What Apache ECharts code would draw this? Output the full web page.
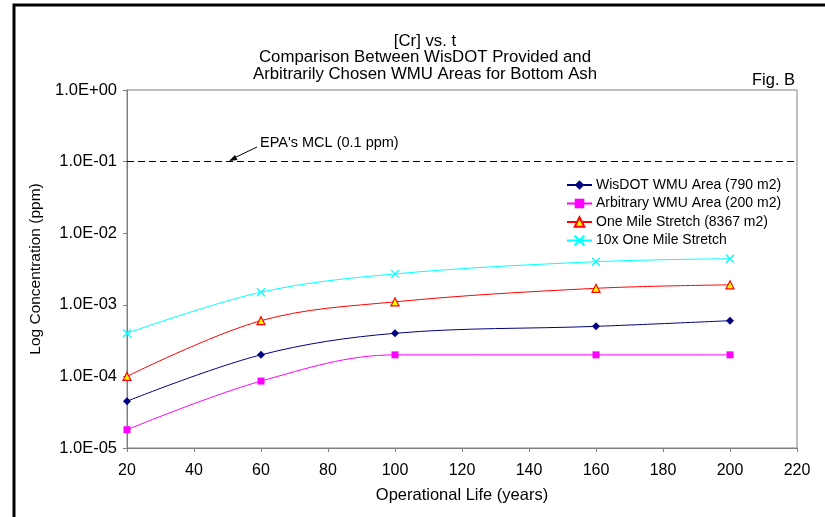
<!DOCTYPE html>
<html><head><meta charset="utf-8">
<script src="https://cdn.jsdelivr.net/npm/echarts@6/dist/echarts.min.js"></script>
<style>html,body{margin:0;padding:0;background:#fff}#c{width:825px;height:517px}</style>
</head><body><div id="c"></div>
<script>
const years = [20, 60, 100, 160, 200];
const wisdot = [4.5e-5, 2.0e-4, 4.0e-4, 5.0e-4, 6.0e-4];
const arbitrary = [1.8e-5, 8.6e-5, 2.0e-4, 2.0e-4, 2.0e-4];
const oneMile = [1.0e-4, 6.0e-4, 1.1e-3, 1.7e-3, 1.9e-3];
const tenxMile = [4.0e-4, 1.5e-3, 2.7e-3, 4.0e-3, 4.4e-3];
const seriesNames = ['WisDOT WMU Area (790 m2)', 'Arbitrary WMU Area (200 m2)', 'One Mile Stretch (8367 m2)', '10x One Mile Stretch'];
const mcl = 0.1;
const titleLines = ['[Cr] vs. t', 'Comparison Between WisDOT Provided and', 'Arbitrarily Chosen WMU Areas for Bottom Ash'];

const font = 'Liberation Sans, Arial, sans-serif';
const pair = arr => years.map((x, i) => [x, arr[i]]);
const fmt = v => {
  const e = Math.round(Math.log10(v));
  const s = e < 0 ? '-' : '+';
  return '1.0E' + s + String(Math.abs(e)).padStart(2, '0');
};
const xPath = 'path://M0,0L10,10M10,0L0,10';
const chart = echarts.init(document.getElementById('c'), null, {renderer: 'canvas'});
chart.setOption({
  animation: false,
  textStyle: {fontFamily: font},
  title: {
    text: titleLines.join('\n'),
    left: 420, top: 28, textAlign: 'center',
    textStyle: {fontFamily: font, fontSize: 16.8, fontWeight: 'normal', color: '#000', lineHeight: 16.5}
  },
  grid: {left: 127, right: 28, top: 90, bottom: 69, show: true, borderColor: '#808080', borderWidth: 1},
  legend: {
    orient: 'vertical', left: 561, top: 173, itemGap: 4.5, itemWidth: 25, itemHeight: 12,
    textStyle: {fontFamily: font, fontSize: 14, color: '#000', padding: [0, 0, 0, -1]},
    data: seriesNames
  },
  xAxis: {
    type: 'value', min: 20, max: 220, interval: 20,
    name: 'Operational Life (years)', nameLocation: 'middle', nameGap: 39,
    nameTextStyle: {fontFamily: font, fontSize: 16.5, color: '#000'},
    axisLine: {lineStyle: {color: '#808080'}},
    axisTick: {length: 4, lineStyle: {color: '#808080'}},
    axisLabel: {fontFamily: font, fontSize: 16, color: '#000', margin: 15},
    splitLine: {show: false}
  },
  yAxis: {
    type: 'log', logBase: 10, min: 1e-5, max: 1,
    name: 'Log Concentration (ppm)', nameLocation: 'middle', nameGap: 80,
    nameTextStyle: {fontFamily: font, fontSize: 15.5, color: '#000'},
    axisLine: {show: true, lineStyle: {color: '#808080'}},
    axisTick: {show: true, length: 4, lineStyle: {color: '#808080'}},
    axisLabel: {fontFamily: font, fontSize: 16.5, color: '#000', margin: 10, formatter: fmt},
    splitLine: {show: false}
  },
  series: [
    {name: seriesNames[0], type: 'line', smooth: 0.35, data: pair(wisdot),
      symbol: 'diamond', symbolSize: 8, lineStyle: {color: '#000080', width: 1},
      itemStyle: {color: '#000080'},
      markLine: {silent: true, symbol: ['none', 'none'], label: {show: false},
        lineStyle: {color: '#000', type: [7, 4], width: 1}, data: [{yAxis: mcl}]}},
    {name: seriesNames[1], type: 'line', smooth: 0.35, data: pair(arbitrary),
      symbol: 'rect', symbolSize: 7, lineStyle: {color: '#ff00ff', width: 1},
      itemStyle: {color: '#ff00ff'}},
    {name: seriesNames[2], type: 'line', smooth: 0.35, data: pair(oneMile),
      symbol: 'triangle', symbolSize: 8, lineStyle: {color: '#ff0000', width: 1},
      itemStyle: {color: '#ffff00', borderColor: '#ff0000', borderWidth: 1.2}},
    {name: seriesNames[3], type: 'line', smooth: 0.35, data: pair(tenxMile),
      symbol: xPath, symbolSize: 8, lineStyle: {color: '#00ffff', width: 1},
      itemStyle: {color: 'rgba(0,0,0,0)', borderColor: '#00ffff', borderWidth: 1.3}}
  ],
  graphic: [
    {type: 'rect', shape: {x: 14, y: 5, width: 830, height: 540}, style: {fill: 'none', stroke: '#000', lineWidth: 3}, silent: true},
    {type: 'text', left: 752, top: 72, style: {text: 'Fig. B', font: '16.5px ' + font, fill: '#000'}},
    {type: 'text', left: 260, top: 135, style: {text: "EPA's MCL (0.1 ppm)", font: '14.5px ' + font, fill: '#000'}},
    {type: 'line', shape: {x1: 257, y1: 147, x2: 232, y2: 159}, style: {stroke: '#000', lineWidth: 1}},
    {type: 'polygon', shape: {points: [[229, 161], [235, 155], [237.5, 160]]}, style: {fill: '#000'}}
  ]
});
</script></body></html>
